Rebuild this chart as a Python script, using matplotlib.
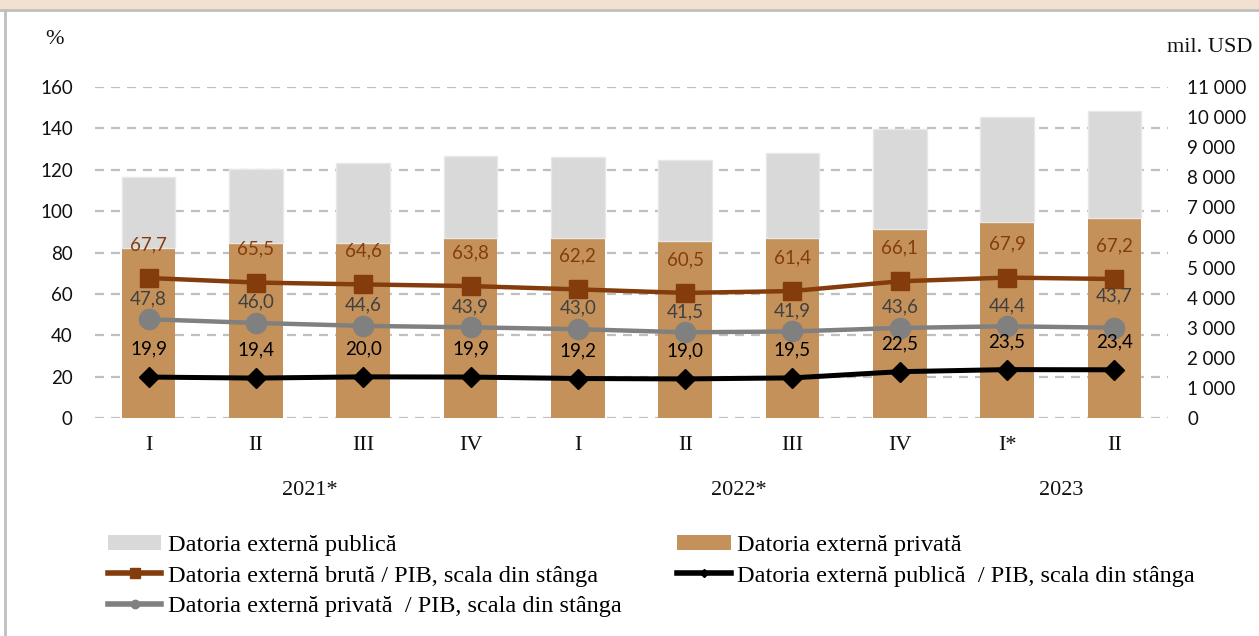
import matplotlib
matplotlib.use("Agg")
import matplotlib.pyplot as plt
from matplotlib.patches import Patch, Rectangle
from matplotlib.lines import Line2D

# ---- data ----
quarters = ["I", "II", "III", "IV", "I", "II", "III", "IV", "I*", "II"]
years = ["2021*", "2022*", "2023"]
year_pos = [1.5, 5.5, 8.5]
private_debt = [5655, 5800, 5821, 5976, 5976, 5877, 5987, 6285, 6518, 6631]
public_debt = [2357, 2458, 2636, 2733, 2680, 2700, 2802, 3301, 3486, 3572]
gross_gdp = [67.7, 65.5, 64.6, 63.8, 62.2, 60.5, 61.4, 66.1, 67.9, 67.2]
private_gdp = [47.8, 46.0, 44.6, 43.9, 43.0, 41.5, 41.9, 43.6, 44.4, 43.7]
public_gdp = [19.9, 19.4, 20.0, 19.9, 19.2, 19.0, 19.5, 22.5, 23.5, 23.4]
left_ticks = list(range(0, 161, 20))
right_ticks = list(range(0, 11001, 1000))

SERIF = ["Liberation Serif", "DejaVu Serif"]
SANS = ["Lato", "DejaVu Sans"]
C_PRIV = "#C4915A"
C_PUB = "#D9D9D9"
C_GROSS = "#843C0C"
C_GRAY = "#808080"
C_GRAYTXT = "#404040"

W, H = 1259, 636
fig = plt.figure(figsize=(W / 100, H / 100), dpi=100)
fig.patch.set_facecolor("white")

# frame decorations
fig.patches.append(Rectangle((0, 1 - 9 / H), 1, 9 / H, transform=fig.transFigure,
                             facecolor="#F2E1D1", edgecolor="none", zorder=0))
fig.lines.append(Line2D([0, 1], [1 - 10 / H, 1 - 10 / H], transform=fig.transFigure,
                        color="#BFBFBF", lw=2))
fig.lines.append(Line2D([5 / W, 5 / W], [0, 1 - 10 / H], transform=fig.transFigure,
                        color="#BFBFBF", lw=2))

left, right = 95 / W, 1168 / W
bottom = (H - 418.3) / H
top = (H - 86.7) / H
ax = fig.add_axes([left, bottom, right - left, top - bottom])
ax_bar = ax.twinx()
ax_line = ax.twinx()

x = list(range(len(quarters)))

# grid axis (left scale)
ax.set_xlim(-0.5, len(quarters) - 0.5)
ax.set_ylim(0, 160)
ax.set_yticks(left_ticks)
ax.set_yticklabels([str(v) for v in left_ticks], family=SANS, fontsize=13.5, color="#111111")
ax.yaxis.grid(True, color="#BFBFBF", linestyle=(0, (4, 3.2)), linewidth=1.6)
ax.set_axisbelow(True)
ax.tick_params(axis="y", length=0, pad=16)
ax.set_xticks(x)
ax.set_xticklabels(quarters, family=SERIF, fontsize=16, color="#111111")
ax.tick_params(axis="x", length=0, pad=13)
for s in ax.spines.values():
    s.set_visible(False)

# bars (right scale)
ax_bar.bar(x, private_debt, width=0.5, color=C_PRIV, edgecolor="none", zorder=2)
ax_bar.bar(x, public_debt, width=0.5, bottom=private_debt, color=C_PUB,
           edgecolor="#E8E8E8", linewidth=1.0, zorder=2)
ax_bar.set_ylim(0, 11000)
ax_bar.set_yticks(right_ticks)
ax_bar.set_yticklabels([f"{v:,}".replace(",", " ") for v in right_ticks],
                       family=SANS, fontsize=13.5, color="#111111")
ax_bar.tick_params(axis="y", length=0, pad=14)
for s in ax_bar.spines.values():
    s.set_visible(False)

# lines (left scale)
ax_line.set_ylim(0, 160)
ax_line.set_yticks([])
for s in ax_line.spines.values():
    s.set_visible(False)
ax_line.plot(x, gross_gdp, color=C_GROSS, lw=3.2, marker="s", markersize=13, zorder=3)
ax_line.plot(x, private_gdp, color=C_GRAY, lw=3.2, marker="o", markersize=14.5, zorder=3)
ax_line.plot(x, public_gdp, color="black", lw=3.6, marker="D", markersize=10, zorder=3)

for i in x:
    ax_line.annotate(f"{gross_gdp[i]:.1f}".replace(".", ","), (i, gross_gdp[i]),
                     xytext=(0, 24), textcoords="offset points", ha="center", va="center",
                     family=SANS, fontsize=13.5, color=C_GROSS)
    off = 23 if i == len(x) - 1 else 15
    ax_line.annotate(f"{private_gdp[i]:.1f}".replace(".", ","), (i, private_gdp[i]),
                     xytext=(0, off), textcoords="offset points", ha="center", va="center",
                     family=SANS, fontsize=13.5, color=C_GRAYTXT)
    ax_line.annotate(f"{public_gdp[i]:.1f}".replace(".", ","), (i, public_gdp[i]),
                     xytext=(0, 20), textcoords="offset points", ha="center", va="center",
                     family=SANS, fontsize=13.5, color="black")

# year labels
for yp, yl in zip(year_pos, years):
    ax.annotate(yl, (yp, 0), xycoords=("data", "axes fraction"), xytext=(0, -52),
                textcoords="offset points", ha="center", va="center",
                family=SERIF, fontsize=16, color="#111111")

# axis unit labels
fig.text(55 / W, 1 - 40 / H, "%", family=SERIF, fontsize=16, ha="center", va="center", color="#111111")
fig.text(1210 / W, 1 - 47 / H, "mil. USD", family=SERIF, fontsize=16, ha="center", va="center", color="#111111")

# legend
handles = [
    Patch(facecolor=C_PUB, edgecolor="none"),
    Line2D([], [], color=C_GROSS, lw=4, marker="s", markersize=7),
    Line2D([], [], color=C_GRAY, lw=4, marker="o", markersize=6),
    Patch(facecolor=C_PRIV, edgecolor="none"),
    Line2D([], [], color="black", lw=4, marker="D", markersize=4),
]
labels = [
    "Datoria externă publică",
    "Datoria externă brută / PIB, scala din stânga",
    "Datoria externă privată  / PIB, scala din stânga",
    "Datoria externă privată",
    "Datoria externă publică  / PIB, scala din stânga",
]
fig.legend(handles, labels, loc="upper left", bbox_to_anchor=(108 / W, 1 - 535 / H),
           ncol=2, frameon=False, prop={"family": SERIF, "size": 17.5},
           handlelength=2.2, handleheight=0.6, handletextpad=0.25, labelspacing=0.37,
           columnspacing=2.3, borderpad=0, borderaxespad=0)

fig.savefig("out.png", dpi=100)
